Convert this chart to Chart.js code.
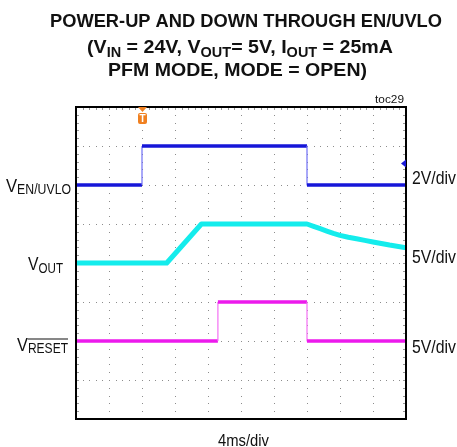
<!DOCTYPE html>
<html><head><meta charset="utf-8">
<script src="https://cdn.jsdelivr.net/npm/chart.js@4.4.1/dist/chart.umd.min.js"></script>
<style>html,body{margin:0;padding:0;background:#fff;}#wrap{width:457px;height:447px;position:relative;}</style>
</head><body><div id="wrap"><canvas id="c" width="457" height="447"></canvas></div>
<script>
// time in divisions (4ms/div), levels in screen divisions (0 = bottom, 8 = top)
const enTime = [0, 2.0, 2.0, 7.0, 7.0, 10];
const enLevel = [6.0, 6.0, 7.0, 7.0, 6.0, 6.0];
const voutTime = [0, 2.75, 3.8, 7.0, 7.2, 7.4, 7.6, 7.8, 8.0, 8.25, 8.5, 8.75, 9.0, 9.5, 10];
const voutLevel = [4.0, 4.0, 5.0, 5.0, 4.94, 4.88, 4.82, 4.76, 4.71, 4.66, 4.62, 4.58, 4.54, 4.46, 4.39];
const resetTime = [0, 4.3, 4.3, 7.0, 7.0, 10];
const resetLevel = [2.0, 2.0, 3.0, 3.0, 2.0, 2.0];
const xDivs = 10, yDivs = 8;
const triggerTime = 2.0;
const enMarkerLevel = 6.55;

const FONT = '"Liberation Sans", Arial, sans-serif';
const pts = (t, v) => t.map((x, i) => ({x, y: v[i]}));

function font(p) { return (p[2] ? 'bold ' : '') + p[1] + 'px ' + FONT; }
function drawRich(ctx, parts, x, baseline, targetW) {
  const widths = parts.map(p => { ctx.font = font(p); return ctx.measureText(p[0]).width; });
  const total = widths.reduce((a, b) => a + b, 0);
  const sx = targetW ? targetW / total : 1;
  ctx.save();
  ctx.translate(x, baseline);
  ctx.scale(sx, 1);
  ctx.fillStyle = '#111';
  ctx.textBaseline = 'alphabetic';
  ctx.textAlign = 'left';
  let cx = 0;
  parts.forEach((p, i) => {
    ctx.font = font(p);
    ctx.fillText(p[0], cx, p[3] || 0);
    if (p[4]) {
      ctx.strokeStyle = '#111'; ctx.lineWidth = 1.2;
      ctx.beginPath(); ctx.moveTo(cx, p[4]); ctx.lineTo(cx + widths[i], p[4]); ctx.stroke();
    }
    cx += widths[i];
  });
  ctx.restore();
}

const scopePlugin = {
  id: 'scope',
  beforeDatasetsDraw(chart) {
    const {ctx, chartArea: a, scales: {x, y}} = chart;
    ctx.save();
    ctx.fillStyle = '#8c8c8c';
    for (let i = 1; i < xDivs; i++) {
      const px = Math.round(x.getPixelForValue(i));
      for (let k = 0; k <= yDivs * 5; k++) {
        const py = Math.round(y.getPixelForValue(k / 5));
        ctx.fillRect(px, py, 1, 1);
      }
    }
    for (let j = 1; j < yDivs; j++) {
      const py = Math.round(y.getPixelForValue(j));
      for (let k = 0; k <= xDivs * 5; k++) {
        const px = Math.round(x.getPixelForValue(k / 5));
        ctx.fillRect(px, py, 1, 1);
      }
    }
    ctx.fillStyle = '#999';
    for (let k = 1; k < xDivs * 5; k++) {
      const px = Math.round(x.getPixelForValue(k / 5));
      ctx.fillRect(px, a.top, 1, 3);
    }
    for (let k = 1; k < yDivs * 5; k++) {
      const py = Math.round(y.getPixelForValue(k / 5));
      ctx.fillRect(a.left, py, 3, 1);
      ctx.fillRect(a.right - 3, py, 3, 1);
    }
    ctx.restore();
  },
  afterDatasetsDraw(chart) {
    const {ctx, chartArea: a, scales: {x, y}} = chart;
    ctx.save();
    ctx.strokeStyle = '#000'; ctx.lineWidth = 2;
    ctx.strokeRect(a.left, a.top, a.right - a.left, a.bottom - a.top);
    const tx = x.getPixelForValue(triggerTime) + 0.5;
    ctx.fillStyle = '#f08020';
    ctx.beginPath(); ctx.moveTo(tx - 4.5, a.top); ctx.lineTo(tx + 4.5, a.top); ctx.lineTo(tx, a.top + 5); ctx.closePath(); ctx.fill();
    ctx.beginPath();
    if (ctx.roundRect) ctx.roundRect(tx - 4.5, a.top + 6, 9, 11, 2); else ctx.rect(tx - 4.5, a.top + 6, 9, 11);
    ctx.fill();
    ctx.fillStyle = '#fff'; ctx.font = 'bold 10px ' + FONT; ctx.textAlign = 'center'; ctx.textBaseline = 'middle';
    ctx.fillText('T', tx, a.top + 12);
    const my = y.getPixelForValue(enMarkerLevel);
    ctx.fillStyle = '#1a1ad8';
    ctx.beginPath(); ctx.moveTo(a.right - 5, my); ctx.lineTo(a.right, my - 4); ctx.lineTo(a.right, my + 4); ctx.closePath(); ctx.fill();
    ctx.restore();
  },
  afterDraw(chart) {
    const ctx = chart.ctx;
    drawRich(ctx, [['POWER-UP AND DOWN THROUGH EN/UVLO', 19, true]], 50, 27, 392);
    drawRich(ctx, [['(V', 19, true], ['IN', 14, true, 4], [' = 24V, V', 19, true], ['OUT', 14, true, 4],
      ['= 5V, I', 19, true], ['OUT', 14, true, 4], [' = 25mA', 19, true]], 87, 53, 306);
    drawRich(ctx, [['PFM MODE, MODE = OPEN)', 19, true]], 108, 76, 259);
    drawRich(ctx, [['toc29', 11.5, false]], 375, 103, 29);
    drawRich(ctx, [['V', 19, false], ['EN/UVLO', 14, false, 2]], 6, 192, 65);
    drawRich(ctx, [['V', 19, false], ['OUT', 14, false, 3]], 28, 270, 35);
    drawRich(ctx, [['V', 19, false], ['RESET', 14, false, 2, -12]], 17, 351, 51);
    drawRich(ctx, [['2V/div', 18, false]], 412, 184, 44);
    drawRich(ctx, [['5V/div', 18, false]], 412, 263, 44);
    drawRich(ctx, [['5V/div', 18, false]], 412, 353, 44);
    drawRich(ctx, [['4ms/div', 16.5, false]], 218, 446, 51);
  }
};

const vertical = c => Math.abs(c.p0.x - c.p1.x) < 0.5;
function trace(data, color, edge, w) {
  return {
    data, borderColor: color, borderWidth: w, pointRadius: 0, tension: 0,
    borderCapStyle: 'butt', borderJoinStyle: 'round',
    segment: {
      borderWidth: c => vertical(c) ? 1.2 : w,
      borderColor: c => vertical(c) ? edge : color
    }
  };
}

new Chart(document.getElementById('c'), {
  type: 'line',
  data: {
    datasets: [
      trace(pts(enTime, enLevel), '#1616d8', '#6f6ff5', 3.5),
      trace(pts(voutTime, voutLevel), '#14ecec', '#14ecec', 5),
      trace(pts(resetTime, resetLevel), '#ec1aec', '#f470f4', 3.5)
    ]
  },
  options: {
    responsive: false, animation: false, devicePixelRatio: 1,
    layout: {padding: {left: 76, top: 107, right: 51, bottom: 28}},
    plugins: {legend: {display: false}, tooltip: {enabled: false}, title: {display: false}},
    scales: {
      x: {type: 'linear', min: 0, max: xDivs, display: false},
      y: {type: 'linear', min: 0, max: yDivs, display: false}
    }
  },
  plugins: [scopePlugin]
});
</script></body></html>
